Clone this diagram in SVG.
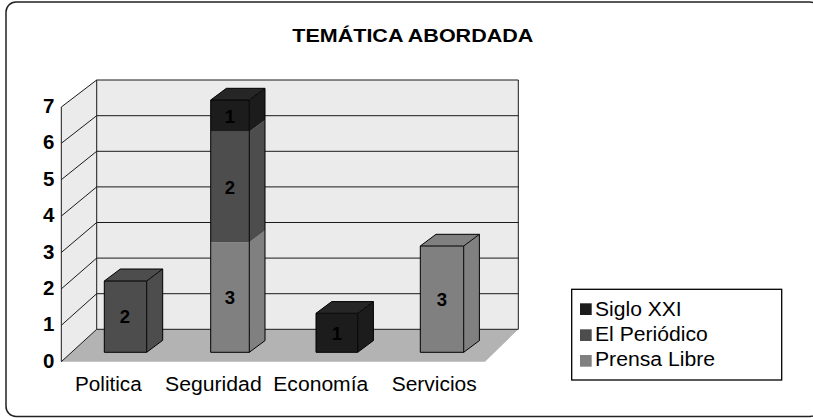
<svg xmlns="http://www.w3.org/2000/svg" width="813" height="418" viewBox="0 0 813 418">
<style>
.t{font-family:"Liberation Sans",Arial,sans-serif;fill:#000}
.b{font-weight:bold}
.grid{stroke:#1a1a1a;stroke-width:1;fill:none}
.wall{fill:#ebebeb;stroke:none}
.edge{stroke:#000;stroke-width:1;fill:none;stroke-linejoin:round}
.s1{fill:#1c1c1c}
.s2{fill:#4d4d4d}
.s3{fill:#808080}
.lbl{font-size:18.5px;font-weight:bold;text-anchor:middle}
.ax{font-size:20.5px;font-weight:bold;text-anchor:end}
.cat{font-size:20px}
.leg{font-size:20px}
</style>
<rect x="0" y="0" width="813" height="418" fill="#fff"/>
<rect x="6" y="2" width="814" height="414.5" rx="10" ry="10" fill="none" stroke="#222" stroke-width="1.5"/>
<text class="t b" x="292.3" y="41.7" font-size="19" textLength="241" lengthAdjust="spacingAndGlyphs">TEMÁTICA ABORDADA</text>

<g id="plot-area">
<polygon class="wall" points="96.7,80 518.3,80 518.3,329.3 96.7,329.3"/>
<polygon class="wall" points="61.3,361.7 61.3,107 96.7,80 96.7,329.3"/>
<polygon points="61.3,361.7 96.7,329.3 518.3,329.3 485,361.7" fill="#b3b3b3"/>
<g class="grid">
<path d="M96.7,329.3H518.3M96.7,293.7H518.3M96.7,258.1H518.3M96.7,222.5H518.3M96.7,186.9H518.3M96.7,151.3H518.3M96.7,115.7H518.3M96.7,80H518.3V329.3M96.7,80V329.3"/>
<path d="M61.3,361.7L96.7,329.3M61.3,325.3L96.7,293.7M61.3,288.9L96.7,258.1M61.3,252.5L96.7,222.5M61.3,216.1L96.7,186.9M61.3,179.7L96.7,151.3M61.3,143.3L96.7,115.7M61.3,107L96.7,80M61.3,107V361.7"/>
</g>
</g>

<g id="y-axis">
<text class="t ax" x="54.5" y="367.7">0</text>
<text class="t ax" x="54.5" y="331.3">1</text>
<text class="t ax" x="54.5" y="294.9">2</text>
<text class="t ax" x="54.5" y="258.5">3</text>
<text class="t ax" x="54.5" y="222.1">4</text>
<text class="t ax" x="54.5" y="185.7">5</text>
<text class="t ax" x="54.5" y="149.3">6</text>
<text class="t ax" x="54.5" y="113">7</text>
</g>

<g id="bar-politica">
<rect class="s2" x="104.3" y="281" width="42.4" height="71.3"/>
<polygon class="s2" points="146.7,281 162.7,269 162.7,340.3 146.7,352.3"/>
<polygon class="s2" points="104.3,281 120.3,269 162.7,269 146.7,281"/>
<path class="edge" d="M104.3,281H146.7V352.3H104.3ZM104.3,281L120.3,269H162.7L146.7,281M162.7,269V340.3L146.7,352.3"/>
<text class="t lbl" x="125" y="323.3">2</text>
</g>

<g id="bar-seguridad">
<rect class="s3" x="210.7" y="242.3" width="38.6" height="110"/>
<polygon class="s3" points="249.3,242.3 265,230.6 265,340.6 249.3,352.3"/>
<rect class="s2" x="210.7" y="131.7" width="38.6" height="110.6"/>
<polygon class="s2" points="249.3,131.7 265,120 265,230.6 249.3,242.3"/>
<rect class="s1" x="210.7" y="100" width="38.6" height="31.7"/>
<polygon class="s1" points="249.3,100 265,88.3 265,120 249.3,131.7"/>
<polygon fill="#262626" points="210.7,100 226.4,88.3 265,88.3 249.3,100"/>
<path class="edge" d="M210.7,100H249.3V352.3H210.7ZM210.7,100L226.4,88.3H265L249.3,100M265,88.3V340.6L249.3,352.3"/>
<text class="t lbl" x="230" y="122.5">1</text>
<text class="t lbl" x="230" y="193.6">2</text>
<text class="t lbl" x="230" y="303.9">3</text>
</g>

<g id="bar-economia">
<rect class="s1" x="316" y="313.3" width="41.7" height="39"/>
<polygon class="s1" points="357.7,313.3 373.4,301.6 373.4,340.6 357.7,352.3"/>
<polygon fill="#262626" points="316,313.3 331.7,301.6 373.4,301.6 357.7,313.3"/>
<path class="edge" d="M316,313.3H357.7V352.3H316ZM316,313.3L331.7,301.6H373.4L357.7,313.3M373.4,301.6V340.6L357.7,352.3"/>
<text class="t lbl" x="337" y="339.6">1</text>
</g>

<g id="bar-servicios">
<rect class="s3" x="420.3" y="246" width="43.4" height="106.3"/>
<polygon class="s3" points="463.7,246 479.4,234.3 479.4,340.6 463.7,352.3"/>
<polygon class="s3" points="420.3,246 436,234.3 479.4,234.3 463.7,246"/>
<path class="edge" d="M420.3,246H463.7V352.3H420.3ZM420.3,246L436,234.3H479.4L463.7,246M479.4,234.3V340.6L463.7,352.3"/>
<text class="t lbl" x="442" y="305.8">3</text>
</g>

<g id="x-axis">
<text class="t cat" x="75" y="391" textLength="66.7" lengthAdjust="spacingAndGlyphs">Politica</text>
<text class="t cat" x="165" y="391" textLength="96.7" lengthAdjust="spacingAndGlyphs">Seguridad</text>
<text class="t cat" x="273.3" y="391" textLength="95" lengthAdjust="spacingAndGlyphs">Economía</text>
<text class="t cat" x="391.7" y="391" textLength="85" lengthAdjust="spacingAndGlyphs">Servicios</text>
</g>

<g id="legend">
<rect x="571.7" y="289.3" width="210" height="90.7" fill="#fff" stroke="#000" stroke-width="1.3"/>
<rect class="s1" x="580" y="303.3" width="11.7" height="11.7"/>
<rect class="s2" x="580" y="329.3" width="11.7" height="11.7"/>
<rect class="s3" x="580" y="355" width="11.7" height="11.7"/>
<text class="t leg" x="595" y="315.7" textLength="86.7" lengthAdjust="spacingAndGlyphs">Siglo XXI</text>
<text class="t leg" x="595" y="341" textLength="112.7" lengthAdjust="spacingAndGlyphs">El Periódico</text>
<text class="t leg" x="595" y="366.3" textLength="120" lengthAdjust="spacingAndGlyphs">Prensa Libre</text>
</g>
</svg>
